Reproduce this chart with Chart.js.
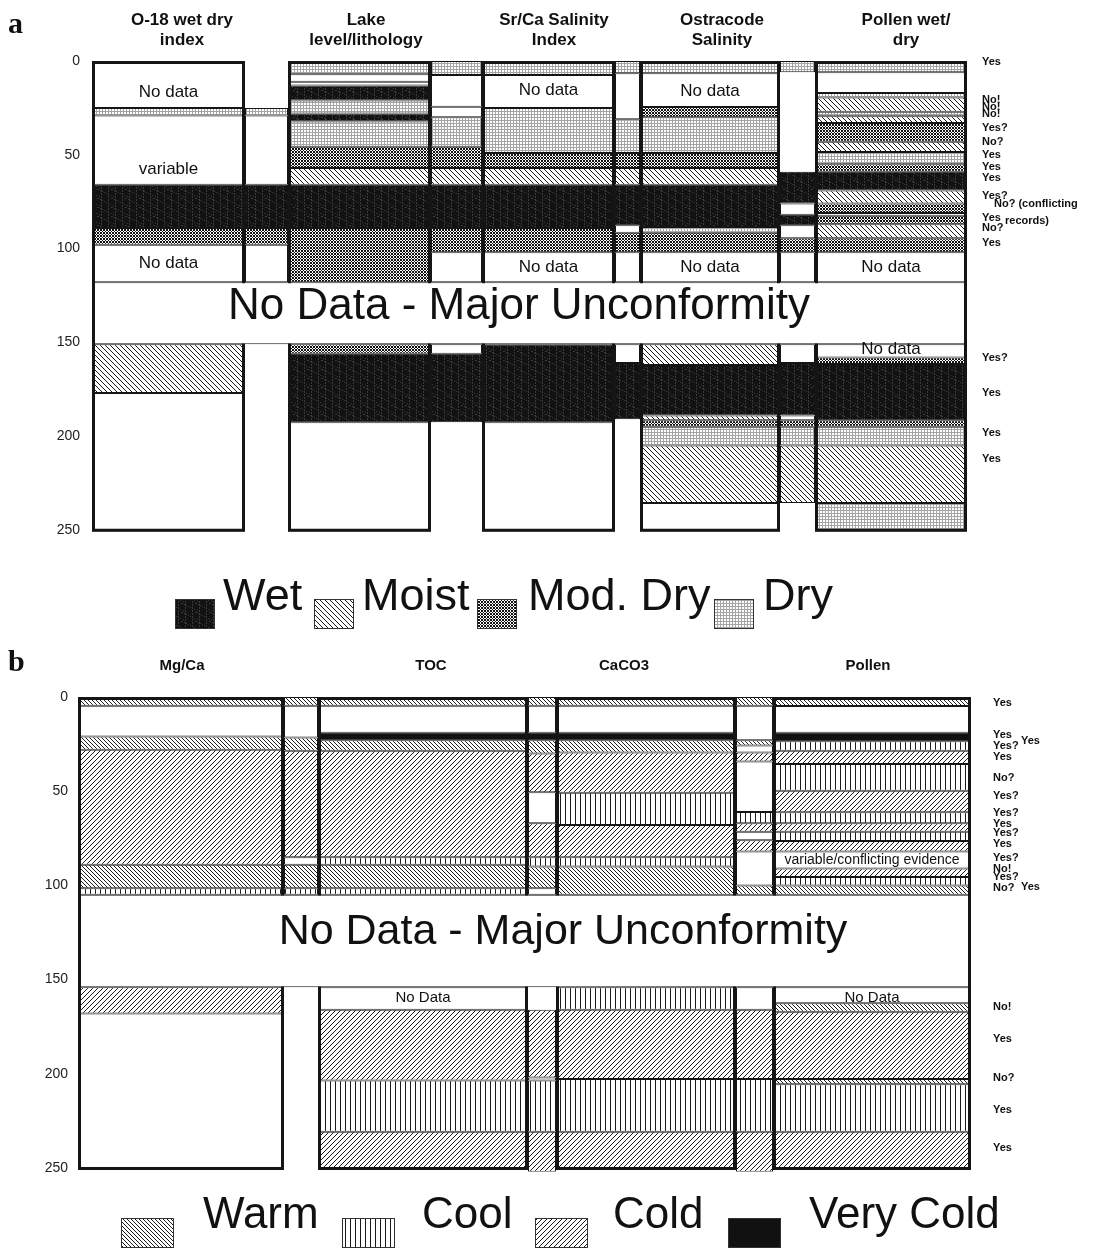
<!DOCTYPE html>
<html>
<head>
<meta charset="utf-8">
<title>Core proxy summary</title>
<script src="https://cdn.jsdelivr.net/npm/chart.js@4.4.1/dist/chart.umd.min.js"></script>
<style>
html, body { margin: 0; padding: 0; background: #fff; }
.panel { position: absolute; left: 0; }
#chartA { top: 0; }
#chartB { top: 640px; }
</style>
</head>
<body>
<canvas id="chartA" class="panel" width="1102" height="640"></canvas>
<canvas id="chartB" class="panel" width="1102" height="609"></canvas>
<script>
var FONT = '"Liberation Sans", Arial, Helvetica, sans-serif';

// depth axis, shared by both panels
var depthTicks = [0, 50, 100, 150, 200, 250];
var coreBase = 251;

// ---------- panel a : wet / dry indicators ----------
var aHeaders = [['O-18 wet dry', 'index'], ['Lake', 'level/lithology'], ['Sr/Ca Salinity', 'Index'], ['Ostracode', 'Salinity'], ['Pollen wet/', 'dry']];
var aLegendLabels = ['Wet', 'Moist', 'Mod. Dry', 'Dry'];
var aLegendKeys = ['wet', 'moist', 'modDry', 'dry'];

// intervals: [top, bottom, class]
var o18Index = [
    [0, 25, 'none'], [25, 29, 'dry'], [29, 66, 'none'], [66, 89, 'wet'], [89, 98, 'modDry'],
    [98, 118, 'none'], [151, 177, 'moist'], [177, 251, 'none']
];
var o18Gap = [
    [25, 29, 'dry'], [29, 66, 'none'], [66, 89, 'wet'], [89, 98, 'modDry'], [98, 118, 'none']
];
var lakeLevel = [
    [0, 7, 'dry'], [7, 11, 'none'], [11, 13, 'none'], [13, 21, 'wet'], [21, 28, 'dry'], [28, 32.3, 'wet'],
    [32.3, 45.7, 'dry'], [45.7, 57, 'modDry'], [57, 66, 'moist'], [66, 89, 'wet'], [89, 118, 'modDry'],
    [151, 156, 'modDry'], [156, 192.5, 'wet'], [192.5, 251, 'none']
];
var lakeGap = [
    [0, 7.5, 'dry'], [7.5, 24.4, 'none'], [24.4, 30, 'none'], [30, 45.7, 'dry'], [45.7, 57, 'modDry'],
    [57, 66, 'moist'], [66, 89, 'wet'], [89, 102, 'modDry'], [102, 118, 'none'],
    [151, 156, 'none'], [156, 192.5, 'wet']
];
var srCaIndex = [
    [0, 7.5, 'dry'], [7.5, 25, 'none'], [25, 49, 'dry'], [49, 57, 'modDry'], [57, 66, 'moist'],
    [66, 89, 'wet'], [89, 102, 'modDry'], [102, 118, 'none'], [151, 192.5, 'wet'], [192.5, 251, 'none']
];
var srCaGap = [
    [0, 6.5, 'dry'], [6.5, 31, 'none'], [31, 49, 'dry'], [49, 57, 'modDry'], [57, 66, 'moist'],
    [66, 87.5, 'wet'], [87.5, 91.5, 'none'], [91.5, 102, 'modDry'], [102, 118, 'none'],
    [151, 161, 'none'], [161, 191, 'wet']
];
var ostracodeSal = [
    [0, 6.5, 'dry'], [6.5, 24.5, 'none'], [24.5, 30, 'modDry'], [30, 49, 'dry'], [49, 57, 'modDry'],
    [57, 66, 'moist'], [66, 88.5, 'wet'], [88.5, 91.5, 'dry'], [91.5, 102, 'modDry'], [102, 118, 'none'],
    [151, 162, 'moist'], [162, 189, 'wet'], [189, 191.5, 'moist'], [191.5, 195, 'modDry'],
    [195, 205, 'dry'], [205, 235.6, 'moist'], [235.6, 251, 'none']
];
var ostracodeGap = [
    [0, 6, 'dry'], [59, 76, 'wet'], [76, 82, 'none'], [82, 87.5, 'wet'], [87.5, 94.5, 'none'],
    [94.5, 102, 'modDry'], [102, 118, 'none'], [151, 161, 'none'], [161, 189, 'wet'],
    [189, 191.5, 'none'], [191.5, 195, 'modDry'], [195, 205, 'dry'], [205, 235.6, 'moist']
];
var pollenWetDry = [
    [0, 6, 'dry'], [6, 17, 'none'], [17, 19.5, 'dry'], [19.5, 27, 'moist'], [27, 29.5, 'dry'],
    [29.5, 33, 'moist'], [33, 43, 'modDry'], [43, 48.5, 'moist'], [48.5, 55, 'dry'], [55, 59, 'modDry'],
    [59, 69, 'wet'], [69, 76, 'moist'], [76, 81, 'modDry'], [81, 82.5, 'none'], [82.5, 87, 'modDry'],
    [87, 94.5, 'moist'], [94.5, 102, 'modDry'], [102, 118, 'none'],
    [151, 158, 'none'], [158, 161.5, 'modDry'], [161.5, 191.5, 'wet'], [191.5, 195, 'modDry'],
    [195, 205, 'dry'], [205, 235.6, 'moist'], [235.6, 251, 'dry']
];
var aUnconformity = [118, 151];

// [column, depth, text]
var aBoxLabels = [
    ['o18', 16.8, 'No data'], ['o18', 57.6, 'variable'], ['o18', 108, 'No data'],
    ['srca', 15.5, 'No data'], ['srca', 110, 'No data'],
    ['ostracode', 16, 'No data'], ['ostracode', 110, 'No data'],
    ['pollen', 110, 'No data'], ['pollen', 153.5, 'No data']
];
// pollen agreement notes: [depth, text, indent]
var aNotes = [
    [0.5, 'Yes'], [20.8, 'No!'], [24.5, 'No!'], [28.3, 'No!'], [35.7, 'Yes?'], [43.2, 'No?'],
    [50.1, 'Yes'], [56.5, 'Yes'], [62.4, 'Yes'], [72, 'Yes?'], [76.2, 'No? (conflicting', 12],
    [83.5, 'Yes'], [85.5, 'records)', 23], [88.8, 'No?'], [97, 'Yes'],
    [158.3, 'Yes?'], [177, 'Yes'], [198.3, 'Yes'], [212.2, 'Yes']
];

// ---------- panel b : temperature indicators ----------
var bHeaders = [['Mg/Ca'], ['TOC'], ['CaCO3'], ['Pollen']];
var bLegendLabels = ['Warm', 'Cool', 'Cold', 'Very Cold'];
var bLegendKeys = ['warm', 'cool', 'cold', 'veryCold'];

var mgCa = [
    [0, 4.6, 'warm'], [4.6, 21, 'none'], [21, 28, 'warm'], [28, 89, 'cold'], [89, 101.5, 'warm'],
    [101.5, 105, 'cool'], [154, 168, 'cold'], [168, 251, 'none']
];
var mgCaGap = [
    [0, 4.6, 'warm'], [4.6, 21.5, 'none'], [21.5, 28.5, 'warm'], [28.5, 85, 'cold'], [85, 89, 'none'],
    [89, 101.5, 'warm'], [101.5, 105, 'cool']
];
var toc = [
    [0, 4.6, 'warm'], [4.6, 19, 'none'], [19, 23, 'veryCold'], [23, 28.5, 'warm'], [28.5, 85, 'cold'],
    [85, 89, 'cool'], [89, 101.5, 'warm'], [101.5, 105, 'cool'],
    [154, 166, 'none'], [166, 203.5, 'cold'], [203.5, 230.7, 'cool'], [230.7, 251, 'cold']
];
var tocGap = [
    [0, 4.6, 'warm'], [4.6, 19, 'none'], [19, 23, 'veryCold'], [23, 30, 'warm'], [30, 50.5, 'cold'],
    [50.5, 67, 'none'], [67, 85, 'cold'], [85, 90, 'cool'], [90, 101.5, 'warm'], [101.5, 105, 'none'],
    [166, 202, 'cold'], [202, 203.5, 'none'], [203.5, 230.7, 'cool'], [230.7, 252, 'cold']
];
var caco3 = [
    [0, 4.6, 'warm'], [4.6, 19, 'none'], [19, 23, 'veryCold'], [23, 29.5, 'warm'], [29.5, 50.8, 'cold'],
    [50.8, 68, 'cool'], [68, 85, 'cold'], [85, 90, 'cool'], [90, 105, 'warm'],
    [154, 166, 'cool'], [166, 202.7, 'cold'], [202.7, 230.7, 'cool'], [230.7, 251, 'cold']
];
var caco3Gap = [
    [0, 4.6, 'warm'], [4.6, 23, 'none'], [23, 25.7, 'warm'], [25.7, 29.5, 'none'], [29.5, 34.2, 'cold'],
    [34.2, 61, 'none'], [61, 67, 'cool'], [67, 71.5, 'cold'], [71.5, 76, 'none'], [76, 82, 'cold'],
    [82, 100, 'none'], [100, 105, 'warm'],
    [154, 166, 'none'], [166, 202.7, 'cold'], [202.7, 230.7, 'cool'], [230.7, 252, 'cold']
];
var pollenTemp = [
    [0, 4.8, 'warm'], [4.8, 19, 'none'], [19, 23.5, 'veryCold'], [23.5, 28.5, 'cool'], [28.5, 35.6, 'cold'],
    [35.6, 49.7, 'cool'], [49.7, 61.2, 'cold'], [61.2, 67, 'cool'], [67, 71.5, 'cold'], [71.5, 76.4, 'cool'],
    [76.4, 82, 'cold'], [82, 91, 'none'], [91, 95.5, 'cold'], [95.5, 100, 'cool'], [100, 105, 'warm'],
    [154, 162.5, 'none'], [162.5, 167, 'warm'], [167, 202.7, 'cold'], [202.7, 205.5, 'warm'],
    [205.5, 230.7, 'cool'], [230.7, 251, 'cold']
];
var bUnconformity = [105, 154];

var bBoxLabels = [
    ['toc', 159.5, 'No Data', 15], ['pollen', 159.5, 'No Data', 15],
    ['pollen', 86.5, 'variable/conflicting evidence', 14]
];
var bNotes = [
    [3.2, 'Yes'], [20.2, 'Yes'], [23.4, 'Yes', 28], [25.8, 'Yes?'], [31.8, 'Yes'], [43, 'No?'],
    [52.5, 'Yes?'], [61.6, 'Yes?'], [67.4, 'Yes'], [72.2, 'Yes?'], [78, 'Yes'], [85.5, 'Yes?'],
    [91.3, 'No!'], [95.5, 'Yes?'], [100.8, 'Yes', 28], [101.6, 'No?'],
    [164.5, 'No!'], [181.5, 'Yes'], [202.2, 'No?'], [219.2, 'Yes'], [239.4, 'Yes']
];

// ---------- layout (x axis runs in page pixels) ----------
var aLayout = {
    axisW: 85, xMax: 975, top: 59.12, bottom: 106.25,
    cols: {
        o18: [92, 245], o18Gap: [245, 288], lake: [288, 431], lakeGap: [431, 482],
        srca: [482, 615], srcaGap: [615, 640], ostracode: [640, 780], ostracodeGap: [780, 815],
        pollen: [815, 967]
    },
    headX: [182, 366, 554, 722, 906], headY: 25, headSize: 17, lineGap: 20,
    letter: 'a', letterY: 33,
    span: [92, 967], gapX: 519, gapY: 131, gapSize: 44,
    noteX: 982, boxSize: 17,
    legendBoxX: [175, 314, 477, 714], legendTextX: [223, 362, 528, 763],
    legendBoxY: 599, legendBoxW: 40, legendBoxH: 30, legendBase: 610, legendSize: 45
};
var bLayout = {
    axisW: 73, xMax: 975, top: 55.12, bottom: 77.23,
    cols: {
        mgca: [78, 284], mgcaGap: [284, 318], toc: [318, 528], tocGap: [528, 556],
        caco3: [556, 736], caco3Gap: [736, 773], pollen: [773, 971]
    },
    headX: [182, 431, 624, 868], headY: 30, headSize: 15, lineGap: 18,
    letter: 'b', letterY: 31,
    span: [78, 971], gapX: 563, gapY: 125, gapSize: 43,
    noteX: 993, boxSize: 15,
    legendBoxX: [121, 342, 535, 728], legendTextX: [203, 422, 613, 809],
    legendBoxY: 578, legendBoxW: 53, legendBoxH: 30, legendBase: 588, legendSize: 44
};

// ---------- fill patterns ----------
function paintTile(w, h, base, ink, test) {
    var c = document.createElement('canvas');
    c.width = w;
    c.height = h;
    var g = c.getContext('2d');
    g.fillStyle = base;
    g.fillRect(0, 0, w, h);
    g.fillStyle = ink;
    for (var y = 0; y < h; y++) {
        for (var x = 0; x < w; x++) {
            if (test(x, y)) g.fillRect(x, y, 1, 1);
        }
    }
    return c;
}

function moistureFills(ctx) {
    return {
        none: '#ffffff',
        // near-black with faint grainy streaks
        wet: ctx.createPattern(paintTile(14, 9, '#121212', '#3a3a3a', function (x, y) {
            return (x % 7 === 3 && y % 3 !== 0) || (x * 5 + y * 3) % 13 === 0;
        }), 'repeat'),
        moist: ctx.createPattern(paintTile(5, 5, '#ffffff', '#1a1a1a', function (x, y) {
            return (x - y + 5) % 5 === 0;
        }), 'repeat'),
        modDry: ctx.createPattern(paintTile(3, 3, '#ffffff', '#111111', function (x, y) {
            return (x + y) % 3 === 0 || (x - y + 3) % 3 === 0;
        }), 'repeat'),
        dry: ctx.createPattern(paintTile(3, 3, '#ffffff', '#a4a4a4', function (x, y) {
            return x === 0 || y === 0;
        }), 'repeat')
    };
}

function temperatureFills(ctx) {
    return {
        none: '#ffffff',
        warm: ctx.createPattern(paintTile(4, 4, '#ffffff', '#1a1a1a', function (x, y) {
            return (x - y + 4) % 4 === 0;
        }), 'repeat'),
        cool: ctx.createPattern(paintTile(5, 1, '#ffffff', '#1a1a1a', function (x) {
            return x === 0;
        }), 'repeat'),
        cold: ctx.createPattern(paintTile(5, 5, '#ffffff', '#1a1a1a', function (x, y) {
            return (x + y) % 5 === 0;
        }), 'repeat'),
        veryCold: '#111111'
    };
}

// ---------- datasets ----------
function widthOf(chart, w) {
    var s = chart.scales.x;
    if (!s) return w;
    return Math.abs(s.getPixelForValue(s.min + w) - s.getPixelForValue(s.min));
}

function columnSet(intervals, edge, fills, framed) {
    var mid = (edge[0] + edge[1]) / 2;
    var w = edge[1] - edge[0];
    var data = [], bg = [], bw = [];
    intervals.forEach(function (iv) {
        data.push({ x: mid, y: [iv[0], iv[1]] });
        bg.push(fills[iv[2]]);
        bw.push(1);
    });
    if (framed) {
        data.push({ x: mid, y: [0, coreBase] });
        bg.push('rgba(0,0,0,0)');
        bw.push(3);
    }
    return {
        data: data,
        backgroundColor: bg,
        hoverBackgroundColor: bg,
        borderColor: '#151515',
        borderWidth: bw,
        borderSkipped: false,
        inflateAmount: 0,
        grouped: false,
        order: 1,
        barThickness: function (c) { return widthOf(c.chart, w); }
    };
}

function unconformitySet(range, edge) {
    var mid = (edge[0] + edge[1]) / 2;
    var w = edge[1] - edge[0];
    return {
        data: [{ x: mid, y: range }],
        backgroundColor: '#ffffff',
        borderColor: '#151515',
        borderWidth: { top: 1, bottom: 1, left: 3, right: 3 },
        borderSkipped: false,
        inflateAmount: 0,
        grouped: false,
        order: 0,
        barThickness: function (c) { return widthOf(c.chart, w); }
    };
}

// headings, in-box text, notes and legend
function decorations(lay, extra) {
    return {
        id: 'decor',
        afterDatasetsDraw: function (chart) {
            var ctx = chart.ctx;
            var xs = chart.scales.x, ys = chart.scales.y;
            var px = function (v) { return xs.getPixelForValue(v); };
            var py = function (v) { return ys.getPixelForValue(v); };
            ctx.save();
            ctx.fillStyle = '#111';

            ctx.textAlign = 'left';
            ctx.textBaseline = 'alphabetic';
            ctx.font = 'bold 30px "Liberation Serif", "Times New Roman", serif';
            ctx.fillText(lay.letter, 8, lay.letterY);

            ctx.textAlign = 'center';
            ctx.font = 'bold ' + lay.headSize + 'px ' + FONT;
            extra.headers.forEach(function (lines, i) {
                lines.forEach(function (t, j) {
                    ctx.fillText(t, px(lay.headX[i]), lay.headY + j * lay.lineGap);
                });
            });

            ctx.textBaseline = 'middle';
            extra.boxLabels.forEach(function (b) {
                var e = lay.cols[b[0]];
                ctx.font = (b[3] || lay.boxSize) + 'px ' + FONT;
                ctx.fillText(b[2], px((e[0] + e[1]) / 2), py(b[1]));
            });

            ctx.font = lay.gapSize + 'px ' + FONT;
            ctx.fillText('No Data - Major Unconformity', px(lay.gapX), py(lay.gapY));

            ctx.textAlign = 'left';
            ctx.font = 'bold 11px ' + FONT;
            extra.notes.forEach(function (n) {
                ctx.fillText(n[1], px(lay.noteX + (n[2] || 0)), py(n[0]));
            });

            ctx.textBaseline = 'alphabetic';
            ctx.font = lay.legendSize + 'px ' + FONT;
            extra.legendLabels.forEach(function (t, i) {
                var bx = lay.legendBoxX[i];
                ctx.fillStyle = extra.fills[extra.legendKeys[i]];
                ctx.fillRect(bx, lay.legendBoxY, lay.legendBoxW, lay.legendBoxH);
                ctx.strokeStyle = '#333';
                ctx.lineWidth = 1;
                ctx.strokeRect(bx + 0.5, lay.legendBoxY + 0.5, lay.legendBoxW - 1, lay.legendBoxH - 1);
                ctx.fillStyle = '#111';
                ctx.fillText(t, lay.legendTextX[i], lay.legendBase);
            });
            ctx.restore();
        }
    };
}

function panelOptions(lay) {
    return {
        responsive: false,
        animation: false,
        events: [],
        layout: { padding: { top: lay.top, bottom: lay.bottom, left: 0, right: 1102 - lay.xMax } },
        plugins: { legend: { display: false }, tooltip: { enabled: false } },
        scales: {
            x: { type: 'linear', display: false, offset: false, min: lay.axisW, max: lay.xMax },
            y: {
                type: 'linear',
                reverse: true,
                min: -1,
                max: 252,
                afterBuildTicks: function (s) {
                    s.ticks = depthTicks.map(function (v) { return { value: v }; });
                },
                afterFit: function (s) { s.width = lay.axisW; },
                grid: { display: false, drawTicks: false },
                border: { display: false },
                ticks: { padding: 5, color: '#222', font: { family: FONT, size: 14 } }
            }
        }
    };
}

// ---------- panel a ----------
var ctxA = document.getElementById('chartA').getContext('2d');
var fillsA = moistureFills(ctxA);
var colA = aLayout.cols;
new Chart(ctxA, {
    type: 'bar',
    data: {
        datasets: [
            unconformitySet(aUnconformity, aLayout.span),
            columnSet(o18Index, colA.o18, fillsA, true),
            columnSet(o18Gap, colA.o18Gap, fillsA, false),
            columnSet(lakeLevel, colA.lake, fillsA, true),
            columnSet(lakeGap, colA.lakeGap, fillsA, false),
            columnSet(srCaIndex, colA.srca, fillsA, true),
            columnSet(srCaGap, colA.srcaGap, fillsA, false),
            columnSet(ostracodeSal, colA.ostracode, fillsA, true),
            columnSet(ostracodeGap, colA.ostracodeGap, fillsA, false),
            columnSet(pollenWetDry, colA.pollen, fillsA, true)
        ]
    },
    options: panelOptions(aLayout),
    plugins: [decorations(aLayout, {
        headers: aHeaders, boxLabels: aBoxLabels, notes: aNotes,
        legendLabels: aLegendLabels, legendKeys: aLegendKeys, fills: fillsA
    })]
});

// ---------- panel b ----------
var ctxB = document.getElementById('chartB').getContext('2d');
var fillsB = temperatureFills(ctxB);
var colB = bLayout.cols;
new Chart(ctxB, {
    type: 'bar',
    data: {
        datasets: [
            unconformitySet(bUnconformity, bLayout.span),
            columnSet(mgCa, colB.mgca, fillsB, true),
            columnSet(mgCaGap, colB.mgcaGap, fillsB, false),
            columnSet(toc, colB.toc, fillsB, true),
            columnSet(tocGap, colB.tocGap, fillsB, false),
            columnSet(caco3, colB.caco3, fillsB, true),
            columnSet(caco3Gap, colB.caco3Gap, fillsB, false),
            columnSet(pollenTemp, colB.pollen, fillsB, true)
        ]
    },
    options: panelOptions(bLayout),
    plugins: [decorations(bLayout, {
        headers: bHeaders, boxLabels: bBoxLabels, notes: bNotes,
        legendLabels: bLegendLabels, legendKeys: bLegendKeys, fills: fillsB
    })]
});
</script>
</body>
</html>
